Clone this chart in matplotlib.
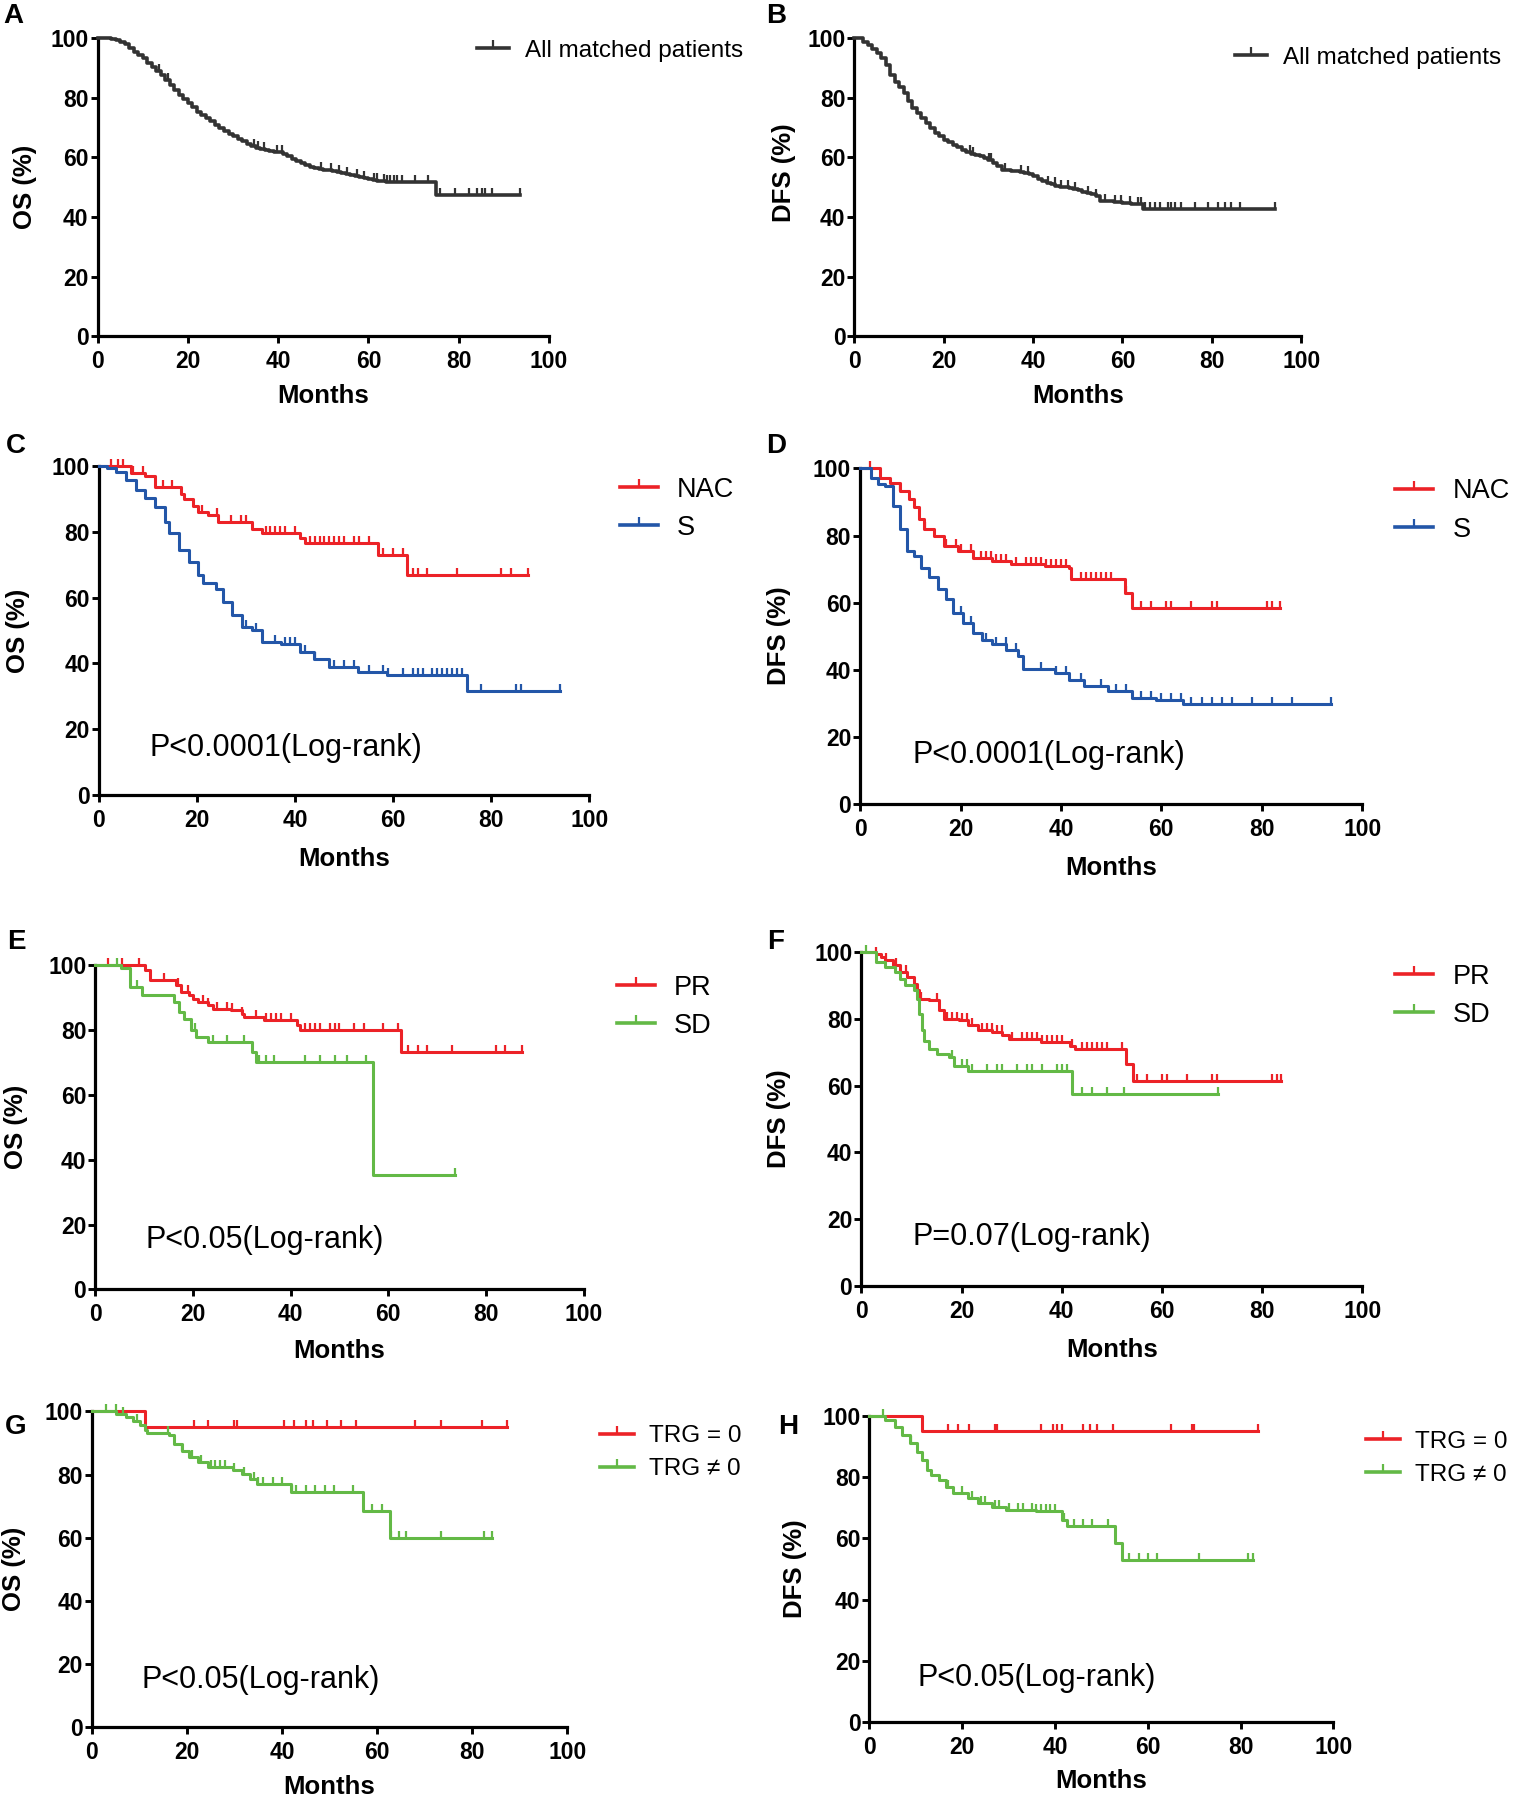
import numpy as np
import matplotlib
matplotlib.use('Agg')
import matplotlib.pyplot as plt
from matplotlib.lines import Line2D

plt.rcParams['font.family'] = ['Liberation Sans', 'DejaVu Sans']

RED = '#ec2227'
BLUE = '#2356a8'
GREEN = '#63b946'
DARK = '#333333'

# ---- Panel A: OS, all matched patients
a_t = [0, 3, 4, 5, 6, 7, 8, 9, 10, 11, 12, 13, 14, 15, 16, 17, 18, 19, 20, 21, 22,
       23, 24, 25, 26, 27, 28, 29, 30, 31, 32, 33, 34, 35, 36, 37, 38, 39, 40, 41,
       42, 43, 44, 45, 46, 47, 48, 49, 50, 51, 52, 53, 54, 55, 56, 57, 58, 59, 60,
       61, 62, 63, 64, 75]
a_s = [100, 99.7, 99.2, 98.6, 97.8, 96.7, 95.3, 94.2, 93.1, 91.7, 90.3, 89, 87.6,
       85.9, 84.2, 82.6, 80.9, 79.5, 78.1, 76.7, 75.3, 74.2, 73.1, 72, 70.9, 69.8,
       68.7, 67.8, 67, 66.1, 65.3, 64.5, 63.7, 63.2, 62.9, 62.5, 62, 61.9, 61.8,
       61, 60.3, 59.5, 58.7, 58, 57.3, 56.8, 56.4, 56.1, 55.9, 55.6, 55.3, 55,
       54.8, 54.5, 54.2, 53.8, 53.4, 53.2, 52.9, 52.5, 52.2, 52, 51.8, 47.3]
a_end = 93.6
a_cens = [13.6, 15.5, 34.6, 35.5, 36.8, 39.8, 40.9, 49.4, 51.6, 53.4, 55.3, 57.5,
          59, 61.2, 61.9, 63.4, 64.1, 64.8, 65.6, 66.3, 67.4, 70.4, 73.3, 75.9,
          79.2, 82.2, 84, 85.1, 85.8, 87.3, 93.6]

# ---- Panel B: DFS, all matched patients
b_t = [0, 2, 3, 4, 5, 6, 7, 8, 9, 10, 11, 12, 13, 14, 15, 16, 17, 18, 19, 20, 21,
       22, 23, 24, 25, 26, 27, 28, 29, 30, 31, 32, 33, 35, 37, 38, 39, 40, 41, 42,
       43, 44, 45, 46, 48, 49, 50, 51, 52, 53, 54, 55, 58, 60, 62, 64, 64.6]
b_s = [100, 98.7, 97.6, 96.4, 94.8, 93.1, 90.9, 87.6, 85.3, 83.7, 81.4, 78.7, 76.4,
       74.8, 73.1, 71.4, 69.8, 68.1, 67, 65.9, 65, 64.2, 63.4, 62.6, 61.8, 61.1,
       60.7, 60.3, 59.8, 59.2, 58.2, 57, 55.6, 55.3, 55, 54.8, 54.3, 53.7, 52.8,
       52, 51.4, 50.9, 50.4, 50, 49.8, 49.3, 48.9, 48.5, 48.1, 47.6, 47, 45.3,
       45.1, 44.8, 44.4, 44.2, 42.6]
b_end = 94.1
b_cens = [25.8, 26.5, 30.2, 30.6, 33.6, 37.3, 38.8, 43.3, 44.8, 46.3, 47.8, 49.3,
          52.3, 54.1, 56, 58.3, 59.7, 61.6, 63.5, 64.2, 65, 66.1, 67.2, 68.3, 70.2,
          70.9, 71.7, 73.2, 76.2, 79.2, 81.4, 82.9, 84.4, 86.3, 94.1]

# ---- Panel C: OS, NAC vs S
c_nac_t = [0, 6.5, 9.5, 11.5, 16.8, 17.4, 19.3, 20.3, 22.3, 24.3, 31.2, 33.2, 41,
           42, 56.9, 62.8]
c_nac_s = [100, 97.8, 97, 93.7, 91.5, 90, 88, 86, 85, 83, 81, 79.5, 78, 76.5,
           72.9, 66.8]
c_nac_end = 87.5
c_nac_cens = [2.5, 4, 5, 7, 9, 13, 15, 21, 24, 27, 29, 30, 34, 35, 36, 37, 38, 40,
              43, 44, 45, 46, 47, 48, 49, 50, 52, 53, 55, 58, 60, 62, 64, 65, 67,
              73, 82, 84, 87.5]
c_s_t = [0, 1.6, 3.6, 5.5, 7.5, 9.5, 11.5, 13.4, 14.4, 16.4, 18.4, 20.3, 21.3, 23.8,
         25.3, 27.2, 29.2, 31.2, 33.2, 37.1, 41, 43.8, 47, 52.9, 58.8, 75]
c_s_s = [100, 99.5, 98.3, 95.7, 92.7, 90.2, 87.6, 83, 79.5, 74.4, 70.9, 66.8, 64.3,
         62.7, 58.7, 54.6, 51, 50, 46.5, 46, 43.5, 41.4, 38.9, 37.4, 36.3, 31.7]
c_s_end = 94
c_s_cens = [30, 32, 36, 38, 39, 40, 42, 44, 48, 50, 52, 55, 58, 59, 62, 64, 65, 66,
            68, 69, 70, 71, 72, 73, 74, 78, 85, 86, 94]

# ---- Panel D: DFS, NAC vs S
d_nac_t = [0, 4, 6, 7.9, 9.8, 10.8, 11.8, 12.7, 14.7, 16.6, 19.5, 22.4, 26.2, 30.1,
           36.8, 41.7, 42.1, 52.7, 54.2]
d_nac_s = [100, 97.3, 95.8, 93.3, 90.8, 88.4, 84.9, 81.9, 79.9, 76.9, 75.4, 73.4,
           72.4, 71.4, 70.9, 70.4, 67, 63, 58.5]
d_nac_end = 83.6
d_nac_cens = [2, 8, 13, 17, 19, 20, 22, 24, 25, 26, 27, 28, 29, 31, 33, 34, 35, 36,
              37, 38, 39, 40, 41, 44, 45, 46, 47, 48, 49, 50, 53, 56, 58, 61, 62,
              66, 70, 71, 81, 82, 83.6]
d_s_t = [0, 2.1, 3.6, 5, 6.5, 7.9, 9.4, 10.8, 12.2, 13.7, 15.6, 17.1, 18.5, 20.4,
         22.4, 24.3, 26.2, 29.1, 31.5, 32.5, 38.8, 41.7, 44.6, 49.4, 54.2, 59, 64.3]
d_s_s = [100, 97.3, 95.3, 94.8, 88.9, 81.9, 75.4, 73.9, 70.4, 67.5, 64, 61, 57, 54,
         51, 49, 47.6, 46, 44, 40.1, 39, 37, 35, 33.6, 31.6, 31.1, 29.7]
d_s_end = 93.7
d_s_cens = [20, 22, 25, 27, 29, 31, 36, 39, 41, 44, 48, 51, 53, 56, 58, 60, 62, 64,
            66, 68, 70, 72, 74, 78, 82, 86, 93.7]

# ---- Panel E: OS, PR vs SD
e_pr_t = [0, 10.1, 11.1, 16.6, 17.6, 19.1, 20.1, 21.1, 23, 24, 27.8, 30, 30.5, 34.5,
          41.4, 41.9, 62.6]
e_pr_s = [100, 98.3, 95.2, 93.6, 91.6, 90.6, 89.5, 88.5, 87.5, 86.4, 85.9, 84.9,
          83.9, 82.9, 81.3, 79.8, 73.1]
e_pr_end = 87.4
e_pr_cens = [2.5, 5.5, 9, 14, 17, 19, 22, 23, 25, 27, 28, 30, 33, 35, 36, 37, 38,
             40, 43, 44, 45, 46, 48, 49, 50, 53, 55, 59, 62, 64, 66, 68, 73, 82,
             84, 87.4]
e_sd_t = [0, 5.2, 7.1, 9.6, 16.1, 17.1, 18.1, 19.6, 20.6, 23, 32, 33, 56.8]
e_sd_s = [100, 98.8, 93.1, 90.5, 88.5, 85.4, 83.4, 79.8, 77.7, 76.2, 73.1, 70, 35.1]
e_sd_end = 73.7
e_sd_cens = [4.5, 8.5, 20.5, 24, 27, 30.5, 33.5, 35, 36.5, 43, 46, 49, 51.5, 55.5,
             73.7]

# ---- Panel F: DFS, PR vs SD
f_pr_t = [0, 2.9, 3.9, 4.8, 6.3, 7.7, 9.2, 10.6, 11.1, 11.6, 13.6, 15.5, 16.5, 19.4,
          21.3, 23.2, 26.1, 28.1, 29.5, 35.8, 41.6, 42.6, 52.8, 54.2]
f_pr_s = [100, 99.5, 98.5, 97.5, 96, 94, 92.5, 90.5, 88.5, 86, 85.5, 82.5, 80, 79.5,
          78, 76.5, 76, 75, 74, 73, 72, 71, 66.5, 61.5]
f_pr_end = 83.7
f_pr_cens = [3, 5, 7, 9, 12, 15, 17, 18, 19, 20, 21, 22, 24, 25, 26, 27, 28, 30, 32,
             33, 34, 35, 36, 37, 38, 39, 40, 42, 44, 45, 46, 47, 48, 49, 52, 55, 57,
             60, 61, 65, 70, 71, 82, 83, 83.7]
f_sd_t = [0, 2.9, 4.8, 6.8, 7.7, 8.7, 10.6, 11.1, 11.6, 12.1, 12.6, 13.6, 15, 17.4,
          18.4, 21.3, 42.1]
f_sd_s = [100, 97, 95.5, 94, 92, 90, 88.5, 86, 81.5, 76.5, 73.5, 71, 69.5, 68.5,
          66, 64.5, 57.5]
f_sd_end = 71.2
f_sd_cens = [1, 18, 20, 21, 22, 25, 27, 28, 31, 33, 34, 36, 39, 40, 41, 44, 46, 49,
             52.5, 71.2]

# ---- Panel G: OS, TRG = 0 vs TRG != 0
g_0_t = [0, 11.2]
g_0_s = [100, 95]
g_0_end = 87.4
g_0_cens = [21.5, 24.5, 30, 30.5, 40.5, 42.5, 45, 46.5, 49.5, 52.5, 55.5, 68, 73.5,
            82, 87.4]
g_n_t = [0, 5.1, 7.1, 8.7, 10.2, 11.2, 11.7, 16.3, 17.3, 18.9, 20.4, 22.4, 24.5,
         29.6, 31.6, 33.2, 34.7, 41.8, 57.1, 62.8]
g_n_s = [100, 99.3, 98.2, 97.1, 95.6, 94, 93.1, 92.4, 89.7, 87.6, 85.5, 83.9, 82.3,
         81.3, 80.2, 78.6, 77, 74.4, 68.6, 59.8]
g_n_end = 84.2
g_n_cens = [3, 5, 6.5, 9.5, 16, 19, 21, 23, 25, 26, 27, 28, 30, 32, 34, 35, 36, 38,
            40, 42, 43, 45, 47, 49, 51, 55, 59, 61, 63, 64.5, 66, 73.5, 82.5, 84.2]

# ---- Panel H: DFS, TRG = 0 vs TRG != 0
h_0_t = [0, 11.3]
h_0_s = [100, 95.1]
h_0_end = 83.7
h_0_cens = [17, 19, 21.5, 27, 27.5, 37, 39.5, 40.5, 41.5, 46, 47.5, 49, 52.5, 65,
            69.5, 70, 83.7]
h_n_t = [0, 3.4, 5.5, 7.1, 8.7, 10.2, 11.3, 12.3, 13.3, 14.9, 16.5, 18, 21.2, 23.3,
         26.4, 29.5, 35.8, 41.5, 42.5, 53, 54.5]
h_n_s = [100, 98.6, 96.4, 93.7, 91, 88.3, 85.6, 82.3, 80.7, 79.1, 76.9, 74.8, 73.1,
         71.5, 70.4, 69.3, 68.8, 66.1, 63.9, 58.5, 53.1]
h_n_end = 82.7
h_n_cens = [3, 9, 17, 20, 22, 24, 25, 27, 28, 30, 32, 33, 35, 36, 37, 38, 39, 40, 42,
            44, 46, 48, 51.5, 56, 58, 60, 62, 71, 81.5, 82.7]

x_ticks = [0, 20, 40, 60, 80, 100]
y_ticks = [0, 20, 40, 60, 80, 100]

LW = 2.2
MS = 5
MEW = 1.6


def km(ax, t, s, end, cens, color, lw=LW):
    t = np.asarray(t, float)
    s = np.asarray(s, float)
    ax.step(np.append(t, end), np.append(s, s[-1]), where='post', color=color,
            lw=lw, clip_on=False, zorder=3)
    c = np.asarray(cens, float)
    cy = s[np.searchsorted(t, c, side='right') - 1]
    ax.plot(c, cy, ls='none', marker=2, ms=MS, mew=MEW, color=color,
            clip_on=False, zorder=3)


def setup(ax, ylab, ylx, yly, xly):
    ax.set_xlim(0, 100)
    ax.set_ylim(0, 100)
    ax.set_xticks(x_ticks)
    ax.set_yticks(y_ticks)
    for sp in ['top', 'right']:
        ax.spines[sp].set_visible(False)
    for sp in ['left', 'bottom']:
        ax.spines[sp].set_linewidth(2.3)
    ax.tick_params(axis='both', direction='out', length=5, width=2.1,
                   labelsize=16.5)
    ax.tick_params(axis='x', pad=5)
    ax.tick_params(axis='y', pad=1.5)
    for lab in ax.get_xticklabels() + ax.get_yticklabels():
        lab.set_fontweight('bold')
    ax.set_xlabel('Months', fontsize=18.5, fontweight='bold')
    ax.xaxis.label.set_va('center')
    ax.xaxis.set_label_coords(0.5, xly)
    ax.set_ylabel(ylab, fontsize=18.5, fontweight='bold')
    ax.yaxis.label.set_va('center')
    ax.yaxis.set_label_coords(ylx, yly)


def handle(color):
    return Line2D([], [], color=color, lw=LW + 0.4, marker=2, ms=MS + 1, mew=MEW)


fig = plt.figure(figsize=(15.16, 18.04), dpi=100)

# axes rectangles in figure fractions
axA = fig.add_axes([0.0644, 0.8135, 0.2977, 0.1655])
axB = fig.add_axes([0.5636, 0.8135, 0.2947, 0.1655])
axC = fig.add_axes([0.0652, 0.5595, 0.3235, 0.1821])
axD = fig.add_axes([0.5674, 0.5544, 0.3311, 0.1859])
axE = fig.add_axes([0.0629, 0.2852, 0.3220, 0.1801])
axF = fig.add_axes([0.5682, 0.2871, 0.3303, 0.1852])
axG = fig.add_axes([0.0606, 0.0426, 0.3136, 0.1750])
axH = fig.add_axes([0.5735, 0.0452, 0.3061, 0.1700])

one_kw = dict(loc='center left', bbox_transform=fig.transFigure, frameon=False,
              fontsize=17.5, handlelength=1.35, handletextpad=0.65,
              borderpad=0, borderaxespad=0)

# A
km(axA, a_t, a_s, a_end, a_cens, DARK, lw=2.6)
setup(axA, 'OS (%)', -0.160, 0.5, -0.20)
axA.legend([handle(DARK)], ['All matched patients'],
           bbox_to_anchor=(0.3144, 0.972), **one_kw)

# B
km(axB, b_t, b_s, b_end, b_cens, DARK, lw=2.6)
setup(axB, 'DFS (%)', -0.157, 0.55, -0.20)
axB.legend([handle(DARK)], ['All matched patients'],
           bbox_to_anchor=(0.8144, 0.968), **one_kw)

two_kw = dict(loc='center left', bbox_transform=fig.transFigure, frameon=False,
              fontsize=19.5, handlelength=1.4, handletextpad=0.7, labelspacing=0.45,
              borderpad=0, borderaxespad=0)

# C
km(axC, c_nac_t, c_nac_s, c_nac_end, c_nac_cens, RED)
km(axC, c_s_t, c_s_s, c_s_end, c_s_cens, BLUE)
setup(axC, 'OS (%)', -0.164, 0.5, -0.195)
axC.legend([handle(RED), handle(BLUE)], ['NAC', 'S'],
           bbox_to_anchor=(0.4091, 0.718), **two_kw)
axC.text(0.103, 0.143, 'P<0.0001(Log-rank)', transform=axC.transAxes,
         fontsize=22, va='center', ha='left')

# D
km(axD, d_nac_t, d_nac_s, d_nac_end, d_nac_cens, RED)
km(axD, d_s_t, d_s_s, d_s_end, d_s_cens, BLUE)
setup(axD, 'DFS (%)', -0.162, 0.5, -0.19)
axD.legend([handle(RED), handle(BLUE)], ['NAC', 'S'],
           bbox_to_anchor=(0.9205, 0.717), **two_kw)
axD.text(0.105, 0.147, 'P<0.0001(Log-rank)', transform=axD.transAxes,
         fontsize=22, va='center', ha='left')

# E
km(axE, e_pr_t, e_pr_s, e_pr_end, e_pr_cens, RED)
km(axE, e_sd_t, e_sd_s, e_sd_end, e_sd_cens, GREEN)
setup(axE, 'OS (%)', -0.162, 0.5, -0.19)
axE.legend([handle(RED), handle(GREEN)], ['PR', 'SD'],
           bbox_to_anchor=(0.4068, 0.442), **two_kw)
axE.text(0.1035, 0.152, 'P<0.05(Log-rank)', transform=axE.transAxes,
         fontsize=22, va='center', ha='left')

# F
km(axF, f_pr_t, f_pr_s, f_pr_end, f_pr_cens, RED)
km(axF, f_sd_t, f_sd_s, f_sd_end, f_sd_cens, GREEN)
setup(axF, 'DFS (%)', -0.165, 0.5, -0.19)
axF.legend([handle(RED), handle(GREEN)], ['PR', 'SD'],
           bbox_to_anchor=(0.9205, 0.448), **two_kw)
axF.text(0.103, 0.148, 'P=0.07(Log-rank)', transform=axF.transAxes,
         fontsize=22, va='center', ha='left')

trg_kw = dict(two_kw, fontsize=17.5, handletextpad=0.65)

# G
km(axG, g_0_t, g_0_s, g_0_end, g_0_cens, RED)
km(axG, g_n_t, g_n_s, g_n_end, g_n_cens, GREEN)
setup(axG, 'OS (%)', -0.164, 0.5, -0.19)
axG.legend([handle(RED), handle(GREEN)], ['TRG = 0', 'TRG \u2260 0'],
           bbox_to_anchor=(0.3955, 0.1948), **trg_kw)
axG.text(0.104, 0.149, 'P<0.05(Log-rank)', transform=axG.transAxes,
         fontsize=22, va='center', ha='left')

# H
km(axH, h_0_t, h_0_s, h_0_end, h_0_cens, RED)
km(axH, h_n_t, h_n_s, h_n_end, h_n_cens, GREEN)
setup(axH, 'DFS (%)', -0.161, 0.5, -0.19)
axH.legend([handle(RED), handle(GREEN)], ['TRG = 0', 'TRG \u2260 0'],
           bbox_to_anchor=(0.9008, 0.1916), **trg_kw)
axH.text(0.104, 0.146, 'P<0.05(Log-rank)', transform=axH.transAxes,
         fontsize=22, va='center', ha='left')

# panel letters
letters = ['A', 'B', 'C', 'D', 'E', 'F', 'G', 'H']
letter_xy = [(0.0091, 0.9911), (0.5121, 0.9911), (0.0106, 0.753), (0.5121, 0.753),
             (0.0106, 0.478), (0.5114, 0.478), (0.0106, 0.2088), (0.5197, 0.2088)]
for lt, (x, y) in zip(letters, letter_xy):
    fig.text(x, y, lt, fontsize=20, fontweight='bold', ha='center', va='center')

fig.savefig('out.png', dpi=100, facecolor='white')
